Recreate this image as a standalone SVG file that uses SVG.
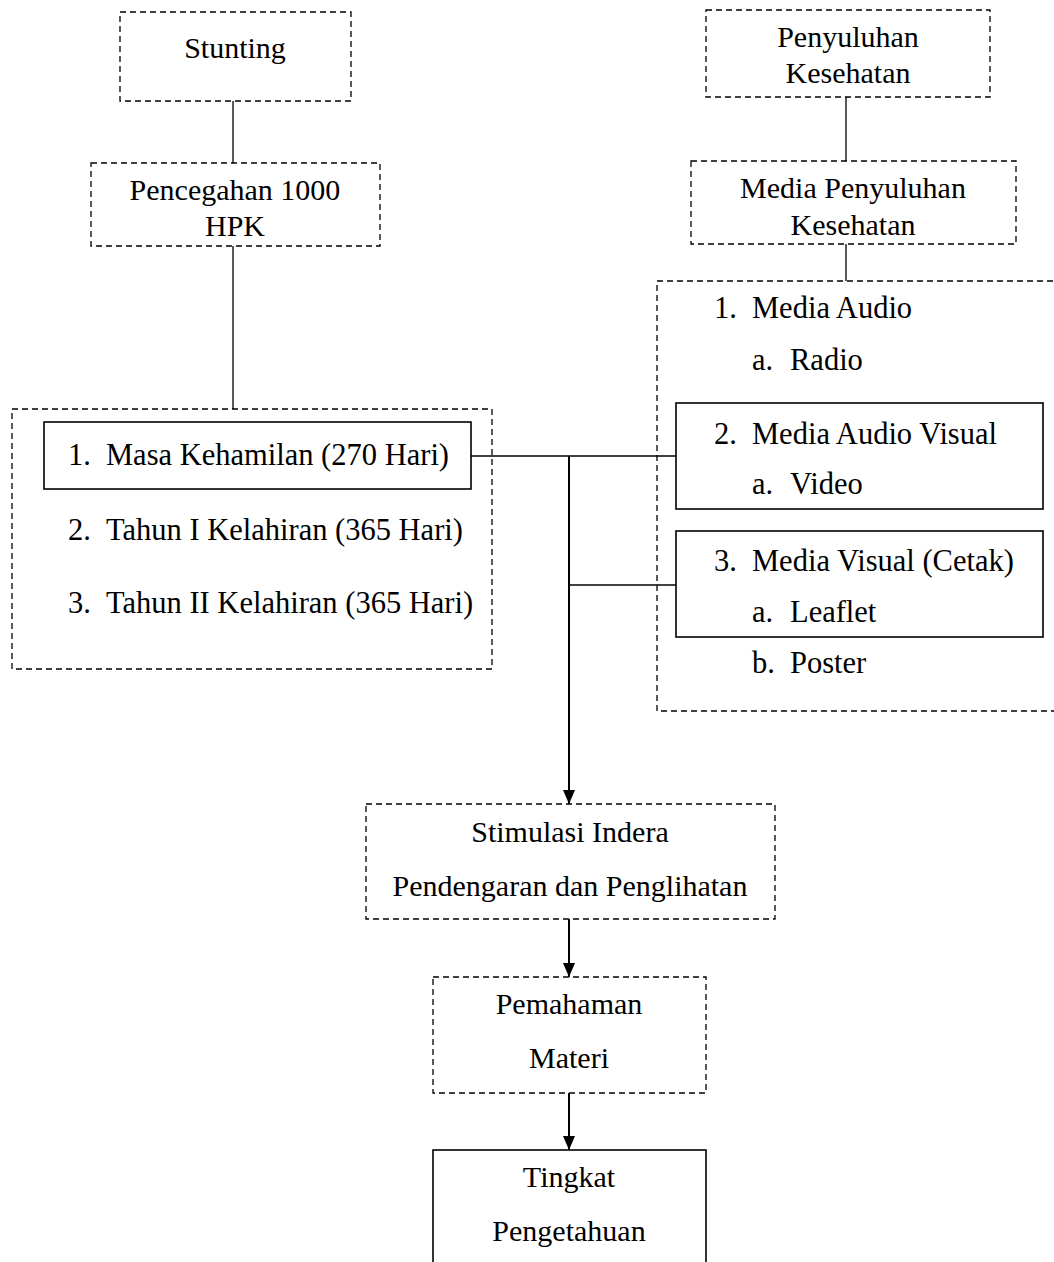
<svg xmlns="http://www.w3.org/2000/svg" width="1054" height="1262" viewBox="0 0 1054 1262">
<defs>
<style>
text{font-family:"Liberation Serif","Times New Roman",serif;font-size:30px;fill:#000}
.li{font-size:30.5px}
.c{text-anchor:middle}
.d{fill:none;stroke:#000;stroke-width:1.3;stroke-dasharray:6 4}
.s{fill:none;stroke:#000;stroke-width:1.6}
.l{fill:none;stroke:#000;stroke-width:1.3}
.a{fill:none;stroke:#000;stroke-width:2}
</style>
<marker id="arr" viewBox="0 0 14 12" refX="14" refY="6" markerWidth="14" markerHeight="12" markerUnits="userSpaceOnUse" orient="auto">
<path d="M0,0 L14,6 L0,12 z" fill="#000"/>
</marker>
</defs>
<rect width="1054" height="1262" fill="#fff"/>
<g id="connectors">
<line class="l" x1="233" y1="101" x2="233" y2="163"/>
<line class="l" x1="233" y1="246" x2="233" y2="409"/>
<line class="l" x1="846" y1="97" x2="846" y2="161"/>
<line class="l" x1="846" y1="244" x2="846" y2="281"/>
<line class="l" x1="471" y1="456" x2="676" y2="456"/>
<line class="l" x1="569" y1="585" x2="676" y2="585"/>
<line class="a" x1="569" y1="456" x2="569" y2="804" marker-end="url(#arr)"/>
<line class="a" x1="569" y1="919" x2="569" y2="977" marker-end="url(#arr)"/>
<line class="a" x1="569" y1="1093" x2="569" y2="1150" marker-end="url(#arr)"/>
</g>
<g id="stunting">
<rect class="d" x="120" y="12" width="231" height="89"/>
<text class="c" x="235" y="58">Stunting</text>
</g>
<g id="pencegahan">
<rect class="d" x="91" y="163" width="289" height="83"/>
<text class="c" x="235" y="200">Pencegahan 1000</text>
<text class="c" x="235" y="236">HPK</text>
</g>
<g id="hpk-list">
<rect class="d" x="12" y="409" width="480" height="260"/>
<rect class="s" x="44" y="422" width="427" height="67"/>
<text class="li" x="68" y="465">1.</text><text class="li" x="106" y="465">Masa Kehamilan (270 Hari)</text>
<text class="li" x="68" y="540">2.</text><text class="li" x="106" y="540">Tahun I Kelahiran (365 Hari)</text>
<text class="li" x="68" y="613">3.</text><text class="li" x="106" y="613">Tahun II Kelahiran (365 Hari)</text>
</g>
<g id="penyuluhan">
<rect class="d" x="706" y="10" width="284" height="87"/>
<text class="c" x="848" y="47">Penyuluhan</text>
<text class="c" x="848" y="83">Kesehatan</text>
</g>
<g id="media-penyuluhan">
<rect class="d" x="691" y="161" width="325" height="83"/>
<text class="c" x="853" y="198">Media Penyuluhan</text>
<text class="c" x="853" y="235">Kesehatan</text>
</g>
<g id="media-list">
<rect class="d" x="657" y="281" width="410" height="430"/>
<text class="li" x="714" y="318">1.</text><text class="li" x="752" y="318">Media Audio</text>
<text class="li" x="752" y="370">a.</text><text class="li" x="790" y="370">Radio</text>
<rect class="s" x="676" y="403" width="367" height="106"/>
<text class="li" x="714" y="444">2.</text><text class="li" x="752" y="444">Media Audio Visual</text>
<text class="li" x="752" y="494">a.</text><text class="li" x="790" y="494">Video</text>
<rect class="s" x="676" y="531" width="367" height="106"/>
<text class="li" x="714" y="571">3.</text><text class="li" x="752" y="571">Media Visual (Cetak)</text>
<text class="li" x="752" y="622">a.</text><text class="li" x="790" y="622">Leaflet</text>
<text class="li" x="752" y="673">b.</text><text class="li" x="790" y="673">Poster</text>
</g>
<g id="stimulasi">
<rect class="d" x="366" y="804" width="409" height="115"/>
<text class="c" x="570" y="842">Stimulasi Indera</text>
<text class="c" x="570" y="896">Pendengaran dan Penglihatan</text>
</g>
<g id="pemahaman">
<rect class="d" x="433" y="977" width="273" height="116"/>
<text class="c" x="569" y="1014">Pemahaman</text>
<text class="c" x="569" y="1068">Materi</text>
</g>
<g id="tingkat">
<rect class="s" x="433" y="1150" width="273" height="130"/>
<text class="c" x="569" y="1187">Tingkat</text>
<text class="c" x="569" y="1241">Pengetahuan</text>
</g>
</svg>
